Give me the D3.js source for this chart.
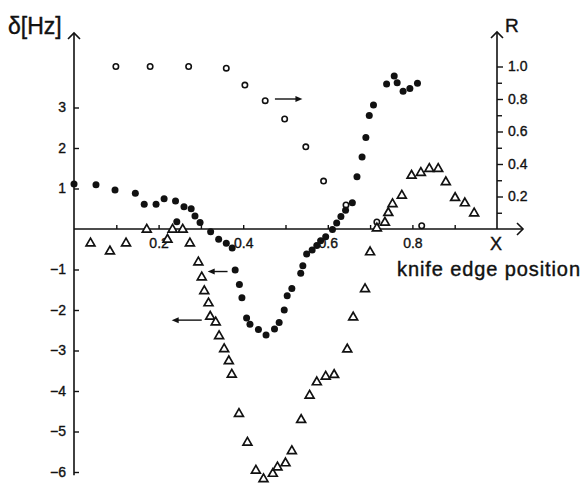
<!DOCTYPE html>
<html>
<head>
<meta charset="utf-8">
<script src="https://cdn.jsdelivr.net/npm/d3@7"></script>
<style>
  body { margin: 0; background: #fff; }
  svg { font-family: "Liberation Sans", Arial, sans-serif; }
</style>
</head>
<body>
<div id="chart"></div>
<script>
// knife edge position X, frequency shift delta [Hz] (filled circles, left axis)
const dotX = [0.000, 0.052, 0.097, 0.145, 0.166, 0.194, 0.213, 0.240, 0.243, 0.260, 0.277, 0.286, 0.298,
  0.323, 0.342, 0.360, 0.374, 0.381, 0.391, 0.397, 0.408, 0.416, 0.436, 0.454, 0.474, 0.485, 0.497,
  0.504, 0.515, 0.536, 0.541, 0.550, 0.563, 0.574, 0.583, 0.595, 0.611, 0.621, 0.631, 0.642, 0.658,
  0.669, 0.681, 0.690, 0.698, 0.708, 0.739, 0.757, 0.764, 0.778, 0.794, 0.812];
const dotD = [1.11, 1.09, 0.96, 0.88, 0.61, 0.61, 0.75, 0.69, 0.18, 0.55, 0.50, 0.32, 0.16,
  -0.07, -0.25, -0.35, -0.47, -1.01, -1.37, -1.70, -2.20, -2.35, -2.48, -2.62, -2.47, -2.31, -2.00,
  -1.65, -1.47, -1.09, -0.91, -0.62, -0.52, -0.41, -0.29, -0.19, -0.01, 0.15, 0.31, 0.46, 0.65,
  1.29, 1.78, 2.26, 2.80, 3.06, 3.58, 3.78, 3.61, 3.40, 3.47, 3.60];

// triangles, left axis
const triX = [0.039, 0.085, 0.123, 0.172, 0.221, 0.233, 0.257, 0.274, 0.294, 0.302, 0.308, 0.318,
  0.322, 0.335, 0.343, 0.355, 0.366, 0.373, 0.390, 0.410, 0.430, 0.448, 0.470, 0.481, 0.500, 0.515,
  0.537, 0.557, 0.574, 0.595, 0.615, 0.646, 0.660, 0.688, 0.700, 0.716, 0.735, 0.743, 0.753, 0.775,
  0.798, 0.820, 0.840, 0.861, 0.879, 0.901, 0.924, 0.946];
const triD = [-0.34, -0.54, -0.34, 0.00, -0.25, 0.00, 0.00, -0.34, -0.81, -1.18, -1.52, -1.82,
  -2.15, -2.29, -2.63, -2.95, -3.25, -3.58, -4.55, -5.26, -5.95, -6.16, -6.03, -5.87, -5.77, -5.47,
  -4.70, -4.10, -3.77, -3.63, -3.59, -2.96, -2.17, -1.47, -0.56, 0.03, 0.17, 0.41, 0.63, 0.84,
  1.33, 1.40, 1.50, 1.50, 1.17, 0.78, 0.65, 0.40];

// open circles, right axis R
const ringX = [0.099, 0.180, 0.271, 0.360, 0.404, 0.452, 0.498, 0.548, 0.590, 0.643, 0.716, 0.822];
const ringR = [1.00, 1.00, 1.00, 0.99, 0.886, 0.79, 0.677, 0.506, 0.295, 0.148, 0.043, 0.02];

const leftTicks = [3, 2, 1, -1, -2, -3, -4, -5, -6];
const rightTicks = [0.2, 0.4, 0.6, 0.8, 1.0];
const rightMinor = [0.1, 0.3, 0.5, 0.7, 0.9];
const xTicks = [0.2, 0.4, 0.6, 0.8];
const xMinor = [0.1, 0.3, 0.5, 0.7, 0.9];

// arrows pointing to the axis each set belongs to: [x from, x to, value]
const arrowRight = [0.475, 0.54, 0.80];
const arrowLeft1 = [0.363, 0.316, -1.05];
const arrowLeft2 = [0.302, 0.231, -2.25];

const width = 584, height = 483;
const svg = d3.select("#chart").append("svg")
  .attr("width", width).attr("height", height);

const x = d3.scaleLinear().domain([0, 1]).range([74, 497]);
const yL = d3.scaleLinear().domain([-6, 3]).range([472, 107.5]);
const yR = d3.scaleLinear().domain([0, 1]).range([229, 66.5]);

const ink = "#111";

// axis lines
const lines = svg.append("g").attr("stroke", ink).attr("stroke-width", 1.6).attr("fill", "none");
lines.append("line").attr("x1", x(0)).attr("x2", x(0)).attr("y1", yL(-6.08)).attr("y2", 33);
lines.append("line").attr("x1", x(1)).attr("x2", x(1)).attr("y1", yR(0)).attr("y2", 32);
lines.append("line").attr("x1", x(0)).attr("x2", 523).attr("y1", yL(0)).attr("y2", yL(0));
lines.append("path").attr("d", `M${x(0) - 6},${39} L${x(0)},${33} L${x(0) + 6},${39}`);
lines.append("path").attr("d", `M${x(1) - 6},${38} L${x(1)},${32} L${x(1) + 6},${38}`);
lines.append("path").attr("d", `M${517},${yL(0) - 6} L${523},${yL(0)} L${517},${yL(0) + 6}`);

function styleAxis(g) {
  g.select(".domain").remove();
  g.selectAll("line").attr("stroke", ink).attr("stroke-width", 1.4);
  g.selectAll("text").attr("fill", ink).attr("font-size", 14)
    .attr("stroke", ink).attr("stroke-width", 0.35);
}

svg.append("g").attr("transform", `translate(${x(0)},0)`)
  .call(d3.axisLeft(yL).tickValues(leftTicks).tickSize(-5).tickPadding(8).tickFormat(d3.format("d")))
  .call(styleAxis);

svg.append("g").attr("transform", `translate(${x(1)},0)`)
  .call(d3.axisRight(yR).tickValues(rightTicks).tickSize(6).tickPadding(5).tickFormat(d3.format(".1f")))
  .call(styleAxis);
svg.append("g").attr("transform", `translate(${x(1)},0)`)
  .call(d3.axisRight(yR).tickValues(rightMinor).tickSize(5).tickFormat(""))
  .call(styleAxis);

svg.append("g").attr("transform", `translate(0,${yL(0)})`)
  .call(d3.axisBottom(x).tickValues(xTicks).tickSize(-4).tickPadding(9).tickFormat(d3.format(".1f")))
  .call(styleAxis);
svg.append("g").attr("transform", `translate(0,${yL(0)})`)
  .call(d3.axisBottom(x).tickValues(xMinor).tickSize(-4).tickFormat(""))
  .call(styleAxis);

// titles
const titles = svg.append("g").attr("fill", ink).attr("stroke", ink).attr("stroke-width", 0.4);
titles.append("text").attr("x", 8).attr("y", 34).attr("font-size", 23).text("δ[Hz]");
titles.append("text").attr("x", 505).attr("y", 32).attr("font-size", 19).text("R");
titles.append("text").attr("x", 496).attr("y", 250).attr("font-size", 18)
  .attr("text-anchor", "middle").text("X");
titles.append("text").attr("x", 397).attr("y", 276).attr("font-size", 20)
  .attr("textLength", 183).attr("lengthAdjust", "spacing")
  .text("knife edge position");

// data marks
svg.append("g").selectAll("circle")
  .data(d3.zip(ringX, ringR))
  .join("circle")
  .attr("cx", d => x(d[0])).attr("cy", d => yR(d[1])).attr("r", 2.7)
  .attr("fill", "#fff").attr("stroke", ink).attr("stroke-width", 1.6);

svg.append("g").selectAll("path")
  .data(d3.zip(triX, triD))
  .join("path")
  .attr("d", d3.symbol().type(d3.symbolTriangle).size(34))
  .attr("transform", d => `translate(${x(d[0])},${yL(d[1]) + 0.5})`)
  .attr("fill", "#fff").attr("stroke", ink).attr("stroke-width", 1.7);

svg.append("g").selectAll("circle")
  .data(d3.zip(dotX, dotD))
  .join("circle")
  .attr("cx", d => x(d[0])).attr("cy", d => yL(d[1])).attr("r", 3.5)
  .attr("fill", ink);

// arrows
function arrow(a, scale) {
  const x1 = x(a[0]), x2 = x(a[1]), yy = scale(a[2]);
  const dir = x2 > x1 ? 1 : -1;
  const g = svg.append("g").attr("stroke", ink).attr("stroke-width", 1.4).attr("fill", ink);
  g.append("line").attr("x1", x1).attr("x2", x2 - dir * 4).attr("y1", yy).attr("y2", yy);
  g.append("path").attr("stroke", "none")
    .attr("d", `M${x2},${yy} L${x2 - dir * 7},${yy - 3} L${x2 - dir * 7},${yy + 3} Z`);
}
arrow(arrowRight, yR);
arrow(arrowLeft1, yL);
arrow(arrowLeft2, yL);
</script>
</body>
</html>
